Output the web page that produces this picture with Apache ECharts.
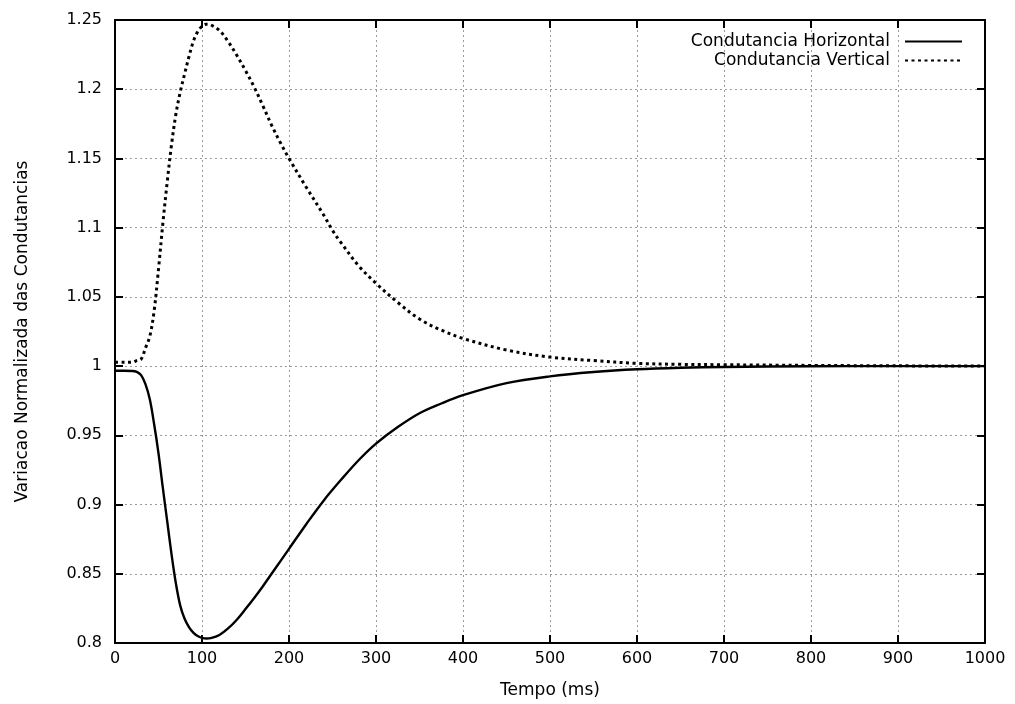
<!DOCTYPE html>
<html>
<head>
<meta charset="utf-8">
<script src="https://cdn.jsdelivr.net/npm/echarts@6/dist/echarts.min.js"></script>
<style>
html,body{margin:0;padding:0;background:#fff;}
#chart{width:1015px;height:704px;}
</style>
</head>
<body>
<div id="chart"></div>
<script>
// Data
const seriesNames = ['Condutancia Horizontal', 'Condutancia Vertical'];
const timeH = [0, 10, 20, 25, 30, 35, 40, 45, 50, 55, 60, 65, 70, 75, 80, 85, 90, 95, 100, 105, 110, 120, 130, 140, 150, 160, 170, 180, 190, 200, 220, 240, 260, 280, 300, 325, 350, 375, 400, 450, 500, 550, 600, 650, 700, 800, 900, 1000];
const horizontal = [0.9966, 0.9966, 0.9965, 0.9958, 0.9935, 0.987, 0.976, 0.958, 0.937, 0.912, 0.888, 0.864, 0.843, 0.827, 0.8175, 0.8115, 0.8075, 0.805, 0.8037, 0.8032, 0.8035, 0.8058, 0.8105, 0.8168, 0.8245, 0.8325, 0.841, 0.850, 0.859, 0.868, 0.886, 0.903, 0.918, 0.932, 0.944, 0.956, 0.966, 0.973, 0.979, 0.9877, 0.9926, 0.9957, 0.9977, 0.9988, 0.9994, 0.9999, 1.0, 1.0];
const timeV = [0, 10, 20, 25, 30, 35, 40, 45, 50, 55, 60, 65, 70, 75, 80, 85, 90, 95, 100, 105, 110, 120, 130, 140, 150, 160, 170, 180, 190, 200, 220, 240, 250, 260, 280, 300, 325, 350, 375, 400, 450, 500, 550, 600, 650, 700, 800, 900, 1000];
const vertical = [1.0027, 1.0027, 1.0028, 1.004, 1.005, 1.013, 1.0215, 1.04, 1.07, 1.103, 1.133, 1.16, 1.182, 1.198, 1.211, 1.2235, 1.2345, 1.2415, 1.2455, 1.247, 1.2465, 1.2425, 1.2345, 1.2245, 1.2135, 1.2015, 1.188, 1.174, 1.1615, 1.15, 1.129, 1.109, 1.098, 1.089, 1.0725, 1.0598, 1.046, 1.034, 1.026, 1.02, 1.0116, 1.0065, 1.004, 1.002, 1.0013, 1.001, 1.0005, 1.0002, 1.0];
const xTitle = 'Tempo (ms)';
const yTitle = 'Variacao Normalizada das Condutancias';

const FONT = 'DejaVu Sans';
const chart = echarts.init(document.getElementById('chart'), null, {renderer: 'canvas'});

const gridLine = {show: true, lineStyle: {color: '#9a9a9a', width: 1, type: [2, 3]}};
const axisLineStyle = {show: true, onZero: false, lineStyle: {color: '#000', width: 2}};
const tickStyle = {show: true, inside: true, length: 8, lineStyle: {color: '#000', width: 2}};
const fmtY = v => String(parseFloat(v.toFixed(2)));
const fmtX = v => String(Math.round(v));

const option = {
  animation: false,
  backgroundColor: '#fff',
  textStyle: {fontFamily: FONT},
  grid: {left: 115, right: 30, top: 20, bottom: 61, containLabel: false},
  legend: {
    data: seriesNames,
    orient: 'vertical',
    align: 'right',
    right: 52,
    top: 33,
    padding: 0,
    itemGap: 2,
    itemWidth: 57,
    itemHeight: 14,
    selectedMode: false,
    itemStyle: {opacity: 0},
    textStyle: {fontFamily: FONT, fontSize: 17, color: '#000', padding: [0, 10, 0, 0]}
  },
  xAxis: [
    {
      type: 'value', min: 0, max: 1000, interval: 100, position: 'bottom',
      name: xTitle, nameLocation: 'middle', nameGap: 39,
      nameTextStyle: {fontFamily: FONT, fontSize: 17, color: '#000'},
      axisLine: axisLineStyle, axisTick: tickStyle,
      axisLabel: {fontFamily: FONT, fontSize: 16, color: '#000', margin: 8, formatter: fmtX},
      splitLine: gridLine
    },
    {
      type: 'value', min: 0, max: 1000, interval: 100, position: 'top',
      axisLine: axisLineStyle, axisTick: tickStyle,
      axisLabel: {show: false}, splitLine: {show: false}
    }
  ],
  yAxis: [
    {
      type: 'value', min: 0.8, max: 1.25, interval: 0.05, position: 'left',
      name: yTitle, nameLocation: 'middle', nameGap: 84,
      nameTextStyle: {fontFamily: FONT, fontSize: 17, color: '#000'},
      axisLine: axisLineStyle, axisTick: tickStyle,
      axisLabel: {fontFamily: FONT, fontSize: 16, color: '#000', margin: 13, formatter: fmtY},
      splitLine: gridLine
    },
    {
      type: 'value', min: 0.8, max: 1.25, interval: 0.05, position: 'right',
      axisLine: axisLineStyle, axisTick: tickStyle,
      axisLabel: {show: false}, splitLine: {show: false}
    }
  ],
  series: [
    {
      name: seriesNames[0], type: 'line', xAxisIndex: 0, yAxisIndex: 0,
      data: timeH.map((t, i) => [t, horizontal[i]]),
      symbol: 'none', showSymbol: false, smooth: 0.35,
      lineStyle: {color: '#000', width: 2.4, type: 'solid'},
      itemStyle: {color: '#000'}, z: 3
    },
    {
      name: seriesNames[1], type: 'line', xAxisIndex: 0, yAxisIndex: 0,
      data: timeV.map((t, i) => [t, vertical[i]]),
      symbol: 'none', showSymbol: false, smooth: 0.35,
      lineStyle: {color: '#000', width: 3, type: [3, 3.5], cap: 'butt'},
      itemStyle: {color: '#000'}, z: 3
    }
  ]
};
chart.setOption(option);
</script>
</body>
</html>
